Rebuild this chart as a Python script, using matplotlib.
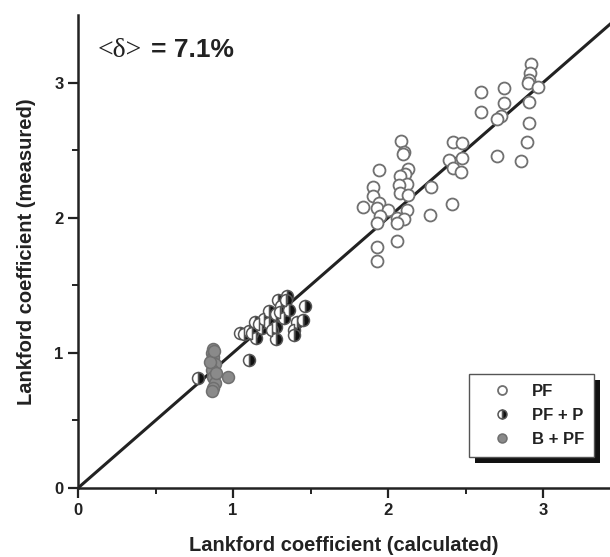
import numpy as np
import matplotlib
matplotlib.use("Agg")
from matplotlib import pyplot as plt
from matplotlib.patches import Rectangle

# open circles: PF
pf_x = [2.925, 2.916, 2.912, 2.905, 2.97, 2.91, 2.91, 2.894, 2.86, 2.75, 2.75, 2.73, 2.70, 2.70,
        2.60, 2.60, 2.42, 2.475, 2.39, 2.475, 2.42, 2.47, 2.41, 2.28, 2.27, 2.084, 2.10, 2.095,
        2.13, 2.11, 2.08, 2.12, 2.07, 2.08, 2.13, 1.94, 1.905, 1.905, 1.94, 1.84, 1.93, 2.0,
        1.95, 2.12, 2.06, 2.10, 1.93, 2.06, 2.06, 1.93, 1.93]
pf_y = [3.14, 3.07, 3.02, 3.0, 2.97, 2.86, 2.70, 2.56, 2.42, 2.96, 2.85, 2.75, 2.73, 2.46,
        2.93, 2.78, 2.56, 2.55, 2.43, 2.44, 2.37, 2.34, 2.10, 2.23, 2.02, 2.57, 2.49, 2.47,
        2.36, 2.32, 2.31, 2.25, 2.24, 2.18, 2.17, 2.35, 2.23, 2.16, 2.11, 2.08, 2.07, 2.06,
        2.01, 2.06, 2.0, 1.99, 1.96, 1.96, 1.83, 1.78, 1.68]

# half filled: PF + P
pfp_x = [1.346, 1.29, 1.465, 1.23, 1.36, 1.28, 1.45, 1.41, 1.14, 1.23, 1.28, 1.185, 1.10,
         1.045, 1.39, 1.39, 1.15, 1.28, 1.10, 0.776, 1.20, 1.31, 1.33, 1.25, 1.07, 1.12,
         1.17, 1.34, 1.30]
pfp_y = [1.417, 1.39, 1.343, 1.31, 1.32, 1.29, 1.24, 1.23, 1.23, 1.22, 1.19, 1.18, 1.16,
         1.146, 1.17, 1.13, 1.11, 1.10, 0.95, 0.81, 1.25, 1.35, 1.26, 1.17, 1.14, 1.15,
         1.21, 1.39, 1.30]

# grey filled: B + PF
bpf_x = [0.873, 0.862, 0.873, 0.884, 0.862, 0.873, 0.884, 0.873, 0.862, 0.97, 0.85, 0.89, 0.88]
bpf_y = [1.03, 1.0, 0.97, 0.92, 0.87, 0.82, 0.78, 0.74, 0.72, 0.82, 0.93, 0.85, 1.01]

plt.rcParams['font.family'] = ['Liberation Sans', 'DejaVu Sans']

fig = plt.figure(figsize=(6.1, 5.57), dpi=100)
ax = fig.add_axes([0.128, 0.124, 0.872, 0.849])

ax.plot([0, 3.6], [0, 3.6], color='#222222', lw=2.2, zorder=1)

ax.plot(pf_x, pf_y, 'o', ls='none', ms=8.6, mfc='white', mec='#707070', mew=1.3,
        label='PF', zorder=2)
ax.plot(pfp_x, pfp_y, 'o', ls='none', ms=8.6, fillstyle='right', mfc='#111111',
        mfcalt='white', mec='#555555', mew=1.1, label='PF + P', zorder=3)
ax.plot(bpf_x, bpf_y, 'o', ls='none', ms=8.6, mfc='#8a8a8a', mec='#6f6f6f', mew=1.1,
        label='B + PF', zorder=3)

ax.set_xlim(0, 3.432)
ax.set_ylim(0, 3.5)
ax.set_xticks([0, 1, 2, 3])
ax.set_yticks([0, 1, 2, 3])
ax.set_xticks([0.5, 1.5, 2.5], minor=True)
ax.set_yticks([0.5, 1.5, 2.5], minor=True)
ax.tick_params(which='major', direction='out', length=7, width=1.6, labelsize=12,
               colors='#222222')
ax.tick_params(which='minor', direction='out', length=4, width=1.4, colors='#222222')
for lab in ax.get_xticklabels() + ax.get_yticklabels():
    lab.set_fontweight('bold')
for s in ['top', 'right']:
    ax.spines[s].set_visible(False)
for s in ['left', 'bottom']:
    ax.spines[s].set_linewidth(1.8)
    ax.spines[s].set_color('#222222')

ax.set_xlabel('Lankford coefficient (calculated)', fontsize=14.5, fontweight='bold',
              color='#222222', labelpad=13)
ax.set_ylabel('Lankford coefficient (measured)', fontsize=14.5, fontweight='bold',
              color='#222222', labelpad=13)

ax.text(0.037, 0.926, '<\u03b4>', transform=ax.transAxes, fontsize=20,
        family='Liberation Serif', color='#222222', va='center')
ax.text(0.138, 0.926, '= 7.1%', transform=ax.transAxes, fontsize=19, fontweight='bold',
        color='#222222', va='center')

leg = ax.legend(loc='lower right', bbox_to_anchor=(0.97, 0.0655), borderaxespad=0,
                frameon=True, fancybox=False, shadow=False, framealpha=1,
                facecolor='white', markerscale=0.75, handlelength=2.7,
                handletextpad=0.45, borderpad=0.6, labelspacing=0.55,
                prop={'weight': 'bold', 'size': 12})
leg.get_frame().set_edgecolor('#555555')
leg.get_frame().set_linewidth(1.0)
for t in leg.get_texts():
    t.set_color('#222222')

# black drop shadow behind the legend box
fig.canvas.draw()
bb = leg.get_window_extent().transformed(ax.transAxes.inverted())
dx = 6 / (0.872 * 610)
dy = 6 / (0.849 * 557)
ax.add_patch(Rectangle((bb.x0 + dx, bb.y0 - dy), bb.width, bb.height,
                       transform=ax.transAxes, facecolor='#111111', edgecolor='none',
                       zorder=4.9, clip_on=False))

fig.savefig('out.png', dpi=100)
